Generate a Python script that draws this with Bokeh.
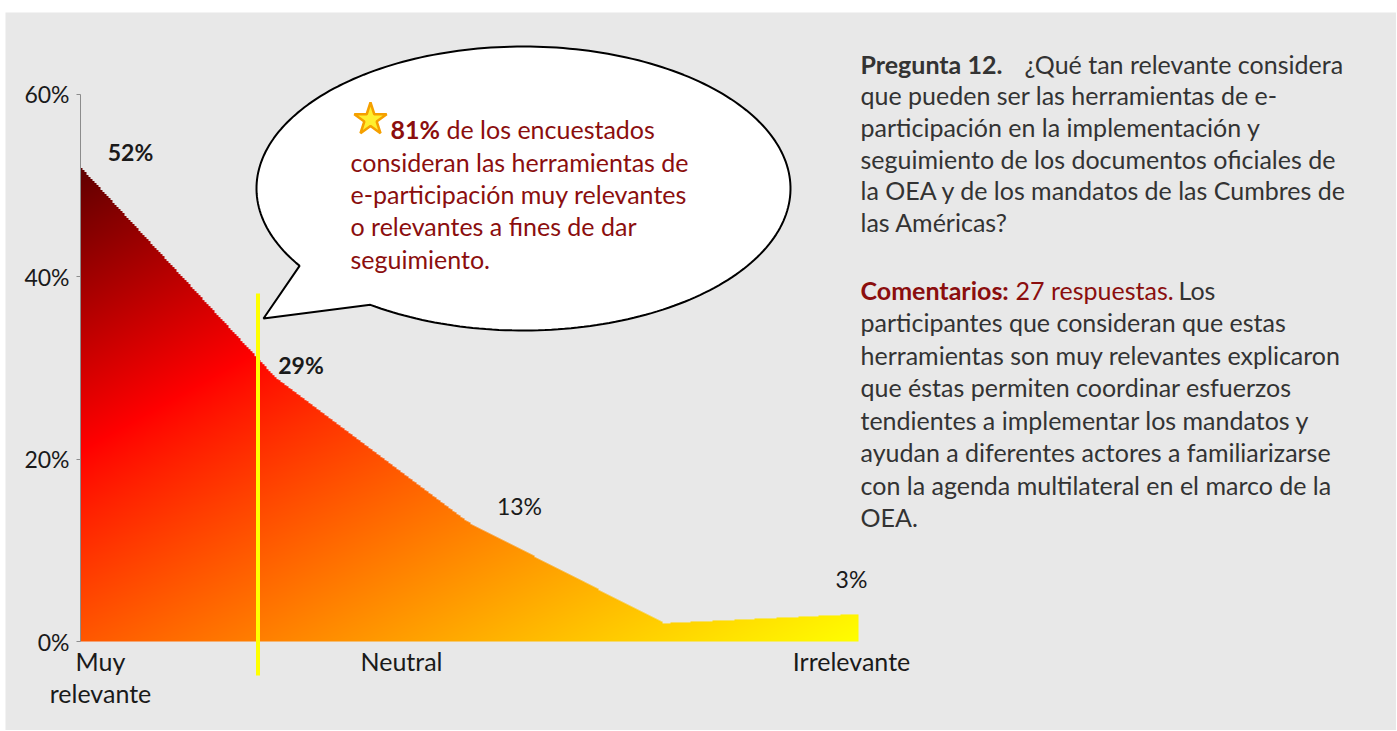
import numpy as np
from bokeh.plotting import figure
from bokeh.layouts import column, row
from bokeh.models import Range1d, FixedTicker, NumeralTickFormatter, Spacer
from bokeh.core.properties import value
from bokeh.embed import file_html
from bokeh.resources import INLINE

# ---------------- data ----------------
categories = ["Muy relevante", "Relevante", "Neutral", "Poco relevante", "Irrelevante"]
shares = [0.52, 0.29, 0.13, 0.02, 0.03]
labelled_points = [0, 1, 2, 4]
bold_points = [0, 1]
y_ticks = [0.0, 0.2, 0.4, 0.6]
y_tick_labels = ["0%", "20%", "40%", "60%"]
x_tick_labels = ["Muy\nrelevante", "Neutral", "Irrelevante"]
callout_bold = "81%"
callout_first = "de los encuestados"
callout_lines = ["consideran las herramientas de",
                 "e-participación muy relevantes",
                 "o relevantes a fines de dar",
                 "seguimiento."]
question_bold = "Pregunta 12."
question_first = "¿Qué tan relevante considera"
question_lines = ["que pueden ser las herramientas de e-",
                  "participación en la implementación y",
                  "seguimiento de los documentos oficiales de",
                  "la OEA y de los mandatos de las Cumbres de",
                  "las Américas?"]
comment_bold = "Comentarios:"
comment_red = "27 respuestas."
comment_first = "Los"
comment_lines = ["participantes que consideran que estas",
                 "herramientas son muy relevantes explicaron",
                 "que éstas permiten  coordinar esfuerzos",
                 "tendientes a implementar los mandatos y",
                 "ayudan a diferentes actores a familiarizarse",
                 "con la agenda multilateral en el marco de la",
                 "OEA."]

# ---------------- layout (page pixels) ----------------
OX, OY = 5, 12           # page offset of the figure (white spacers)
W, H = 1391, 718
X0, Y0 = 80, 641         # page position of (index 0, 0%)
SX, SY = 194.5, 912.5    # px per category step, px per unit share
TDY = -10                # baseline correction for text rendering


def X(px):
    return (px - X0) / SX


def Y(py):
    return (Y0 - py) / SY


def YT(py):
    return Y(py + TDY)


FONT = value("Lato")
GRAY = "#333333"
DARK = "#1a1a1a"
RED = "#8B0E0E"
BG = "#e8e8e8"
BODY = "25px"
NUM = "23px"

p = figure(width=W, height=H, output_backend="svg", toolbar_location=None,
           x_axis_location=None, y_axis_location="left",
           x_range=Range1d(X(OX), X(OX + W)), y_range=Range1d(Y(OY + H), Y(OY)),
           min_border=0, min_border_left=0, min_border_right=0,
           min_border_top=0, min_border_bottom=0)
p.background_fill_color = BG
p.border_fill_color = BG
p.outline_line_color = None
p.grid.visible = False

ax = p.yaxis[0]
ax.fixed_location = 0
ax.ticker = FixedTicker(ticks=y_ticks)
ax.formatter = NumeralTickFormatter(format="0%")
ax.major_label_overrides = {t: l for t, l in zip(y_ticks, y_tick_labels)}
ax.bounds = (min(y_ticks), max(y_ticks))
ax.axis_line_color = "#8c8c8c"
ax.major_tick_line_color = "#8c8c8c"
ax.major_tick_in = 0
ax.major_tick_out = 4
ax.minor_tick_line_color = None
ax.major_label_standoff = 7
ax.major_label_text_font = "Lato"
ax.major_label_text_font_size = NUM
ax.major_label_text_color = DARK

# ---------------- gradient-filled area ----------------
idx = np.arange(len(shares))
xmax = len(shares) - 1
ymax = max(shares)
nx = int(round(xmax * SX / 2))
ny = int(round(ymax * SY))
xc = (np.arange(nx) + 0.5) / nx * xmax
yc = (np.arange(ny) + 0.5) / ny * ymax
curve = np.interp(xc, idx, shares)
inside = yc[:, None] <= curve[None, :]
px = X0 + xc * SX
py = Y0 - yc * SY
T = 0.000616 * (px[None, :] - X0) + 0.0011 * (py[:, None] - 167)
T = np.clip(T, 0, 1)
s1 = 0.311
r = np.where(T < s1, 96 + (255 - 96) * T / s1, 255)
g = np.where(T < s1, 0, 255 * ((T - s1) / (1 - s1)) ** 0.9)
img = np.zeros((ny, nx), dtype=np.uint32)
view = img.view(dtype=np.uint8).reshape((ny, nx, 4))
view[..., 0] = r.astype(np.uint8)
view[..., 1] = g.astype(np.uint8)
view[..., 2] = 0
view[..., 3] = (inside * 255).astype(np.uint8)
p.image_rgba(image=[img], x=0, y=0, dw=xmax, dh=ymax)

# ---------------- yellow marker line ----------------
p.segment(x0=[X(257.5)], y0=[Y(675)], x1=[X(257.5)], y1=[Y(293)],
          line_color="#ffff00", line_width=4)

# ---------------- speech bubble ----------------
cx, cy, a, b = 523, 188, 267, 142
th = np.radians(np.linspace(147, 485, 240))
bx = list(cx + a * np.cos(th)) + [263]
by = list(cy + b * np.sin(th)) + [318]
p.patch(x=[X(v) for v in bx], y=[Y(v) for v in by], fill_color="white",
        line_color="black", line_width=2)
p.scatter(x=[X(370)], y=[Y(119)], marker="star", size=34,
          fill_color="#FFEF2E", line_color="#F5A000", line_width=2.5)

# callout text
p.text(x=[X(390)], y=[YT(138)], text=[callout_bold], text_font=FONT,
       text_font_style="bold", text_font_size=BODY, text_color=RED,
       text_baseline="alphabetic")
p.text(x=[X(446)], y=[YT(138)], text=[callout_first], text_font=FONT,
       text_font_size=BODY, text_color=RED, text_baseline="alphabetic")
p.text(x=[X(350)] * len(callout_lines),
       y=[YT(171 + 32.4 * i) for i in range(len(callout_lines))],
       text=callout_lines, text_font=FONT, text_font_size=BODY,
       text_color=RED, text_baseline="alphabetic")

# ---------------- value labels ----------------
lab_dx = {0: 50, 1: 26, 2: 50, 4: -7}
lab_dy = {0: -5.5, 1: -1.4, 2: -6.4, 4: -25.6}
for bold in (True, False):
    sel = [i for i in labelled_points if (i in bold_points) == bold]
    p.text(x=[idx[i] for i in sel], y=[shares[i] for i in sel],
           text=[f"{round(shares[i] * 100)}%" for i in sel],
           x_offset=[lab_dx[i] for i in sel],
           y_offset=[lab_dy[i] + TDY for i in sel],
           text_font=FONT, text_font_size=NUM,
           text_font_style="bold" if bold else "normal",
           text_color=DARK, text_align="center", text_baseline="alphabetic")

# ---------------- category labels ----------------
cat_x = [100, 401, 851]
lx, ly, lt = [], [], []
for lbl, cxp in zip(x_tick_labels, cat_x):
    for k, part in enumerate(lbl.split("\n")):
        lx.append(X(cxp))
        ly.append(YT(670 + 32 * k))
        lt.append(part)
p.text(x=lx, y=ly, text=lt, text_font=FONT, text_font_size=BODY,
       text_color=DARK, text_align="center", text_baseline="alphabetic")

# ---------------- right-hand text ----------------
p.text(x=[X(860)], y=[YT(73)], text=[question_bold], text_font=FONT,
       text_font_style="bold", text_font_size=BODY, text_color=GRAY,
       text_baseline="alphabetic")
p.text(x=[X(1024)], y=[YT(73)], text=[question_first], text_font=FONT,
       text_font_size=BODY, text_color=GRAY, text_baseline="alphabetic")
p.text(x=[X(860)] * len(question_lines),
       y=[YT(104.5 + 31.8 * i) for i in range(len(question_lines))],
       text=question_lines, text_font=FONT, text_font_size=BODY,
       text_color=GRAY, text_baseline="alphabetic")

p.text(x=[X(860)], y=[YT(299)], text=[comment_bold], text_font=FONT,
       text_font_style="bold", text_font_size=BODY, text_color=RED,
       text_baseline="alphabetic")
p.text(x=[X(1015)], y=[YT(299)], text=[comment_red], text_font=FONT,
       text_font_size=BODY, text_color=RED, text_baseline="alphabetic")
p.text(x=[X(1178)], y=[YT(299)], text=[comment_first], text_font=FONT,
       text_font_size=BODY, text_color=GRAY, text_baseline="alphabetic")
p.text(x=[X(860)] * len(comment_lines),
       y=[YT(331.5 + 32.5 * i) for i in range(len(comment_lines))],
       text=comment_lines, text_font=FONT, text_font_size=BODY,
       text_color=GRAY, text_baseline="alphabetic")

layout = column(Spacer(width=OX + W, height=OY),
                row(Spacer(width=OX, height=H), p))
open("out.html", "w").write(file_html(layout, INLINE))
